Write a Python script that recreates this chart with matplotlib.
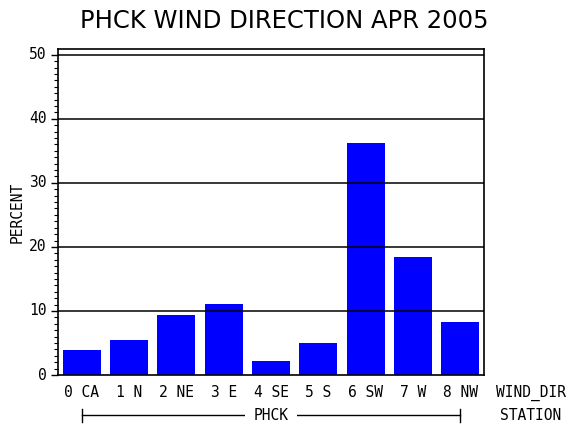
import matplotlib
matplotlib.use("Agg")
import matplotlib.pyplot as plt
from matplotlib.ticker import MultipleLocator
import matplotlib.transforms as mtransforms

categories = ["0 CA", "1 N", "2 NE", "3 E", "4 SE", "5 S", "6 SW", "7 W", "8 NW"]
values = [3.9, 5.5, 9.4, 11.1, 2.2, 5.0, 36.2, 18.5, 8.3]
station = "PHCK"
title = "PHCK WIND DIRECTION APR 2005"

fig = plt.figure(figsize=(5.7, 4.3), dpi=100)
W, H = 570, 430
ax = fig.add_axes([58 / W, 1 - 375 / H, (484 - 58) / W, (375 - 49) / H])

x = list(range(len(categories)))
ax.bar(x, values, width=0.8, color="#0000FF", zorder=2)
ax.set_xlim(-0.5, len(categories) - 0.5)
ax.set_ylim(0, 50.9)
for yv in [10, 20, 30, 40, 50]:
    ax.axhline(yv, color="black", lw=1.1, zorder=3)

ax.yaxis.set_major_locator(MultipleLocator(10))
ax.yaxis.set_minor_locator(MultipleLocator(1))
ax.tick_params(axis="y", which="major", length=5, width=1, direction="out", pad=3)
ax.tick_params(axis="y", which="minor", length=3, width=0.8, direction="out")
ax.set_yticklabels([])
mono = "DejaVu Sans Mono"
ytrans = mtransforms.blended_transform_factory(ax.transAxes, ax.transData)
for yv in [0, 10, 20, 30, 40, 50]:
    ax.text(-0.027, yv, f"{yv}", transform=ytrans, ha="right", va="center", family=mono, fontsize=10.5)
ax.set_xticks([])
for s in ax.spines.values():
    s.set_linewidth(1.2)
    s.set_zorder(4)

trans = mtransforms.blended_transform_factory(ax.transData, ax.transAxes)
for xi, lab in zip(x, categories):
    ax.text(xi, -0.055, lab, transform=trans, ha="center", va="center", family=mono, fontsize=10.5)

ax.text(1.028, -0.055, "WIND_DIR", transform=ax.transAxes, ha="left", va="center", family=mono, fontsize=10.5)
ax.text(1.038, -0.123, "STATION", transform=ax.transAxes, ha="left", va="center", family=mono, fontsize=10.5)

yl = -0.123
ax.plot([0, 8], [yl, yl], transform=trans, color="black", lw=1, clip_on=False)
ax.plot([0, 0], [yl - 0.02, yl + 0.02], transform=trans, color="black", lw=1, clip_on=False)
ax.plot([8, 8], [yl - 0.02, yl + 0.02], transform=trans, color="black", lw=1, clip_on=False)
ax.text(4, yl, station, transform=trans, ha="center", va="center", family=mono, fontsize=10.5,
        bbox=dict(facecolor="white", edgecolor="none", pad=6))

fig.text(17 / W, 1 - 212 / H, "PERCENT", rotation=90, ha="center", va="center", family=mono, fontsize=10.5)
fig.text(284 / W, 1 - 21 / H, title, ha="center", va="center", fontsize=17.5)

fig.savefig("out.png", dpi=100)
